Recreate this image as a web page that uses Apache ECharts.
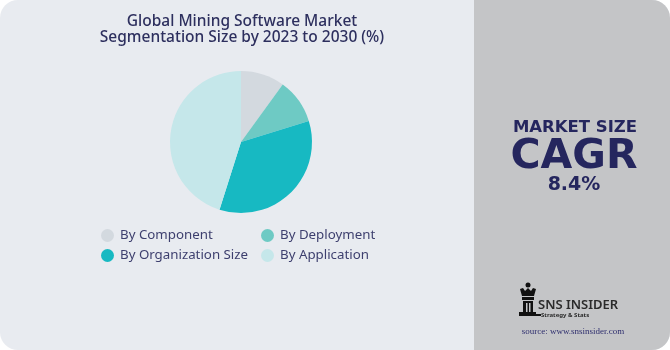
<!DOCTYPE html>
<html>
<head>
<meta charset="utf-8">
<script src="https://cdn.jsdelivr.net/npm/echarts@6/dist/echarts.min.js"></script>
<style>
html,body{margin:0;padding:0;background:#ffffff;}
#chart{width:670px;height:350px;}
</style>
</head>
<body>
<div id="chart"></div>
<script>
const categories = ['By Component', 'By Deployment', 'By Organization Size', 'By Application'];
const shares = [10, 10.2, 34.7, 45.1];
const colors = ['#d3d9df', '#6ecac4', '#17b9c2', '#c5e7ea'];
const titleLines = ['Global Mining Software Market', 'Segmentation Size by 2023 to 2030 (%)'];
const cagrLabel = 'MARKET SIZE';
const cagrWord = 'CAGR';
const cagrValue = '8.4%';

const chart = echarts.init(document.getElementById('chart'), null, {renderer: 'canvas'});
const navy = '#25265e';
const font = '"Noto Sans", sans-serif';
const wide = '"DejaVu Sans", sans-serif';

const option = {
  backgroundColor: '#ffffff',
  animation: false,
  title: {
    text: titleLines.join('\n'),
    left: 237, top: 8, textAlign: 'center',
    textStyle: {fontFamily: font, fontSize: 15.5, fontWeight: 500, color: '#2d2f5e', lineHeight: 16.5}
  },
  legend: [
    {
      data: [categories[0], categories[2]],
      orient: 'vertical', left: 96, top: 224, itemGap: 7,
      icon: 'circle', itemWidth: 13, itemHeight: 13,
      textStyle: {fontFamily: font, fontSize: 13.3, color: '#3d3f6e', padding: [0, 0, 0, 1]},
      selectedMode: false
    },
    {
      data: [categories[1], categories[3]],
      orient: 'vertical', left: 256, top: 224, itemGap: 7,
      icon: 'circle', itemWidth: 13, itemHeight: 13,
      textStyle: {fontFamily: font, fontSize: 13.3, color: '#3d3f6e', padding: [0, 0, 0, 1]},
      selectedMode: false
    }
  ],
  graphic: [
    {type: 'rect', z: -10, silent: true, shape: {x: 0, y: 0, width: 670, height: 350, r: 18}, style: {fill: '#e8ebf0'}},
    {type: 'rect', z: -9, silent: true, shape: {x: 474, y: 0, width: 196, height: 350, r: [0, 18, 18, 0]}, style: {fill: '#c4c5c7'}},
    {type: 'text', z: 5, x: 575, y: 128, style: {text: cagrLabel, fill: navy, font: 'bold 16.5px ' + wide, textAlign: 'center', textVerticalAlign: 'middle'}},
    {type: 'text', z: 5, x: 574, y: 157, style: {text: cagrWord, fill: navy, font: 'bold 41px ' + wide, textAlign: 'center', textVerticalAlign: 'middle'}},
    {type: 'text', z: 5, x: 574, y: 185, style: {text: cagrValue, fill: navy, font: 'bold 19px ' + wide, textAlign: 'center', textVerticalAlign: 'middle'}},
    // logo
    {type: 'group', z: 5, children: [
      {type: 'circle', shape: {cx: 528, cy: 285, r: 2.5}, style: {fill: '#111'}},
      {type: 'polygon', shape: {points: [[520,289],[523,288],[525,291],[528,288],[531,291],[533,288],[536,289],[534,296],[522,296]]}, style: {fill: '#111'}},
      {type: 'rect', shape: {x: 522, y: 297, width: 12, height: 3}, style: {fill: '#111'}},
      {type: 'rect', shape: {x: 523, y: 301, width: 10, height: 11}, style: {fill: '#111'}},
      {type: 'rect', shape: {x: 526, y: 303, width: 1.5, height: 9}, style: {fill: '#c4c5c7'}},
      {type: 'rect', shape: {x: 529, y: 303, width: 1.5, height: 9}, style: {fill: '#c4c5c7'}},
      {type: 'rect', shape: {x: 519, y: 312, width: 17, height: 4}, style: {fill: '#111'}},
      {type: 'rect', shape: {x: 536, y: 314, width: 5, height: 2}, style: {fill: '#111'}}
    ]},
    {type: 'text', z: 5, x: 538, y: 305, style: {text: 'SNS INSIDER', fill: '#2b2b2b', font: '600 13px ' + font, textVerticalAlign: 'middle'}},
    {type: 'text', z: 5, x: 541, y: 315, style: {text: 'Strategy & Stats', fill: '#2b2b2b', font: 'bold 6px ' + font, textVerticalAlign: 'middle'}},
    {type: 'text', z: 5, x: 573, y: 332, style: {text: 'source: www.snsinsider.com', fill: '#2e2e6e', font: '9px "Liberation Serif", serif', textAlign: 'center', textVerticalAlign: 'middle'}}
  ],
  series: [{
    type: 'pie',
    center: [241, 142],
    radius: [0, 71],
    startAngle: 90,
    clockwise: true,
    label: {show: false},
    labelLine: {show: false},
    emphasis: {disabled: true},
    itemStyle: {borderWidth: 0},
    data: categories.map((c, i) => ({name: c, value: shares[i], itemStyle: {color: colors[i]}}))
  }]
};
chart.setOption(option);
</script>
</body>
</html>
